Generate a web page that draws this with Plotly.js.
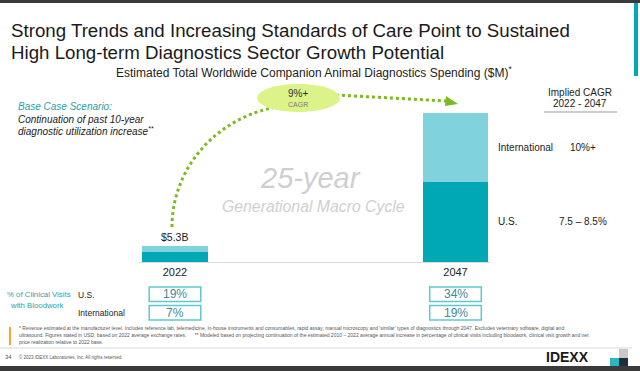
<!DOCTYPE html>
<html>
<head>
<meta charset="utf-8">
<script src="https://cdn.plot.ly/plotly-3.0.1.min.js"></script>
<style>
  html, body { margin: 0; padding: 0; background: #ffffff; }
  #chart { width: 640px; height: 371px; }
</style>
</head>
<body>
<div id="chart"></div>
<script>
// ---- data ----
const years = ['2022', '2047'];
const usSpending = [3300, 26500];          // $M, U.S.
const intlSpending = [2000, 22800];        // $M, International
const totalLabels = ['$5.3B', ''];
const impliedCagrLabels = ['International', 'U.S.'];
const impliedCagrValues = ['10%+', '7.5 – 8.5%'];
const visitsUS = ['19%', '34%'];
const visitsIntl = ['7%', '19%'];

// ---- pixel helpers (plot area 139..490 x 100..262) ----
const L = 139, R = 490, T = 100, B = 262;
const W = R - L, H = B - T;
const px = x => (x - L) / W;
const py = y => (B - y) / H;
const FONT = 'Liberation Sans, Arial, sans-serif';

const usColor = '#00a8b5';
const intlColor = '#80d2dc';
const teal = '#00a7b5';

const traces = [
  { type: 'bar', name: 'U.S.', x: years, y: usSpending, marker: { color: usColor }, hoverinfo: 'none' },
  { type: 'bar', name: 'International', x: years, y: intlSpending, marker: { color: intlColor }, hoverinfo: 'none' }
];

function txt(x, y, text, size, color, anchor, extra) {
  return Object.assign({
    xref: 'paper', yref: 'paper', x: px(x), y: py(y), text: text, showarrow: false,
    xanchor: anchor || 'center', yanchor: 'middle',
    font: { family: FONT, size: size, color: color || '#222' }
  }, extra || {});
}
function rect(x0, y0, x1, y1, fill, line) {
  return { type: 'rect', xref: 'paper', yref: 'paper', x0: px(x0), x1: px(x1), y0: py(y0), y1: py(y1),
    fillcolor: fill, line: line || { width: 0 } };
}
function seg(x0, y0, x1, y1, color, width, dash) {
  return { type: 'line', xref: 'paper', yref: 'paper', x0: px(x0), x1: px(x1), y0: py(y0), y1: py(y1),
    line: { color: color, width: width, dash: dash || 'solid' } };
}
function pathStr(pts) {
  return pts.map(p => p[0] + ' ' + p.slice(1).reduce((a, v, i) => a + (i % 2 === 0 ? (i ? ' ' : '') + px(v) : ',' + py(v)), '')).join(' ');
}

const annotations = [];
const shapes = [];

// frame decorations
shapes.push(rect(0, 0, 640, 3, '#3a3a3a'));
shapes.push(rect(634, 3, 638, 76, teal));
shapes.push(rect(0, 366, 640, 371, '#3a3a3a'));
shapes.push(seg(0, 348, 632, 348, '#d6d6d6', 1));
shapes.push(rect(9, 327, 11, 345, '#f5a623'));
// logo squares
shapes.push(rect(619, 349, 628, 358, '#c9c9c9'));
shapes.push(rect(610, 358, 619, 366, '#2fb5c2'));
shapes.push(rect(619, 358, 628, 366, '#1f2d3d'));

// dotted arc from 2022 to the CAGR ellipse
const green = '#7dba1e';
shapes.push({ type: 'path', xref: 'paper', yref: 'paper', layer: 'above',
  path: pathStr([['M', 172, 227], ['C', 172, 160, 229, 105, 300, 105]]),
  line: { color: green, width: 3, dash: 'dot' } });
shapes.push(seg(336, 95, 446, 101, green, 3, 'dot'));
shapes.push({ type: 'path', xref: 'paper', yref: 'paper',
  path: pathStr([['M', 446, 96], ['L', 458, 104], ['L', 445, 106]]) + ' Z',
  fillcolor: green, line: { width: 0 } });
shapes.push({ type: 'circle', xref: 'paper', yref: 'paper', x0: px(257), x1: px(340), y0: py(84), y1: py(112),
  fillcolor: '#dcf38a', line: { width: 0 } });

// underline of implied CAGR header
shapes.push(seg(544, 112, 617, 112, '#bdbdbd', 1.5));

// clinical visit boxes, centred on categories
const boxHalf = 0.092;
const boxLine = { color: '#5ec7d0', width: 1.5 };
years.forEach((yr, i) => {
  shapes.push({ type: 'rect', xref: 'x', yref: 'paper', x0: i - boxHalf, x1: i + boxHalf, y0: py(287), y1: py(301.5),
    fillcolor: 'rgba(0,0,0,0)', line: boxLine });
  shapes.push({ type: 'rect', xref: 'x', yref: 'paper', x0: i - boxHalf, x1: i + boxHalf, y0: py(305.5), y1: py(320),
    fillcolor: 'rgba(0,0,0,0)', line: boxLine });
  annotations.push({ xref: 'x', yref: 'paper', x: i, y: py(294.3), text: visitsUS[i], showarrow: false,
    font: { family: FONT, size: 12, color: '#3f8a93' }, yanchor: 'middle' });
  annotations.push({ xref: 'x', yref: 'paper', x: i, y: py(312.8), text: visitsIntl[i], showarrow: false,
    font: { family: FONT, size: 12, color: '#3f8a93' }, yanchor: 'middle' });
  if (totalLabels[i]) {
    annotations.push({ xref: 'x', yref: 'y', x: i, y: usSpending[i] + intlSpending[i], yshift: 9,
      text: totalLabels[i], showarrow: false, yanchor: 'middle',
      font: { family: FONT, size: 10.5, color: '#222' } });
  }
});

// implied CAGR labels at segment middles of 2047 bar
const last = years.length - 1;
const segMid = [usSpending[last] + intlSpending[last] / 2, usSpending[last] / 2];
[0, 1].forEach(k => {
  annotations.push({ xref: 'paper', yref: 'y', x: px(496), y: segMid[k], text: impliedCagrLabels[k],
    xanchor: 'left', yanchor: 'middle', showarrow: false, font: { family: FONT, size: 10, color: '#222' } });
  annotations.push({ xref: 'paper', yref: 'y', x: px(k === 0 ? 568 : 557), y: segMid[k], text: impliedCagrValues[k],
    xanchor: 'left', yanchor: 'middle', showarrow: false, font: { family: FONT, size: 10, color: '#222' } });
});

// titles and texts
annotations.push(txt(9, 30, 'Strong Trends and Increasing Standards of Care Point to Sustained', 18.7, '#1a1a1a', 'left'));
annotations.push(txt(9, 52, 'High Long-term Diagnostics Sector Growth Potential', 18.7, '#1a1a1a', 'left'));
annotations.push(txt(314, 72, 'Estimated Total Worldwide Companion Animal Diagnostics Spending ($M)<sup>*</sup>', 12, '#222'));
annotations.push(txt(16, 106, '<i>Base Case Scenario:</i>', 10, '#2a9fae', 'left'));
annotations.push(txt(16, 119, '<i>Continuation of past 10-year</i>', 10, '#222', 'left'));
annotations.push(txt(16, 131, '<i>diagnostic utilization increase<sup>**</sup></i>', 10, '#222', 'left'));
annotations.push(txt(298, 93, '9%+', 10, '#333'));
annotations.push(txt(298, 104, 'CAGR', 7, '#777'));
annotations.push(txt(310, 178, '<i>25-year</i>', 29, '#cfcfcf'));
annotations.push(txt(313, 206, '<i>Generational Macro Cycle</i>', 15.8, '#cfcfcf'));
annotations.push(txt(580, 92, 'Implied CAGR', 10, '#222'));
annotations.push(txt(580, 103, '2022 - 2047', 10, '#222'));
annotations.push(txt(5, 294, '% of Clinical Visits', 7.8, '#2a9fae', 'left'));
annotations.push(txt(37, 305, 'with Bloodwork', 7.8, '#2a9fae'));
annotations.push(txt(76, 295, 'U.S.', 8.5, '#222', 'left'));
annotations.push(txt(76, 313, 'International', 8.5, '#222', 'left'));

const fn1 = '* Revenue estimated at the manufacturer level. Includes reference lab, telemedicine, in-house instruments and consumables, rapid assay, manual microscopy and \'similar\' types of diagnostics through 2047. Excludes veterinary software, digital and';
const fn2 = 'ultrasound. Figures stated in USD, based on 2022 average exchange rates.      ** Modeled based on projecting continuation of the estimated 2010 – 2022 average annual increase in percentage of clinical visits including bloodwork, clinical visit growth and net';
const fn3 = 'price realization relative to 2022 base.';
annotations.push(txt(17, 328, fn1, 5, '#555', 'left'));
annotations.push(txt(17, 335, fn2, 5, '#555', 'left'));
annotations.push(txt(17, 342, fn3, 5, '#555', 'left'));
annotations.push(txt(3, 357, '34', 6, '#555', 'left'));
annotations.push(txt(17, 357, '© 2023 IDEXX Laboratories, Inc. All rights reserved.', 4.5, '#555', 'left'));
annotations.push(txt(567, 357, '<b>IDEXX</b>', 14, '#1a1a1a'));

const layout = {
  width: 640, height: 371,
  margin: { l: L, r: 640 - R, t: T, b: 371 - B, pad: 0 },
  paper_bgcolor: '#ffffff', plot_bgcolor: '#ffffff',
  showlegend: false,
  barmode: 'stack', bargap: 0.768,
  font: { family: FONT, color: '#222' },
  xaxis: {
    type: 'category', range: [-0.1283, 1.123], showline: true, linecolor: '#d9d9d9', linewidth: 1,
    ticks: '', showgrid: false, zeroline: false, fixedrange: true,
    tickfont: { family: FONT, size: 11, color: '#222' }
  },
  yaxis: { range: [0, 53600], visible: false, showgrid: false, zeroline: false, fixedrange: true },
  shapes: shapes,
  annotations: annotations
};

Plotly.newPlot('chart', traces, layout, { displayModeBar: false, staticPlot: true });
</script>
</body>
</html>
